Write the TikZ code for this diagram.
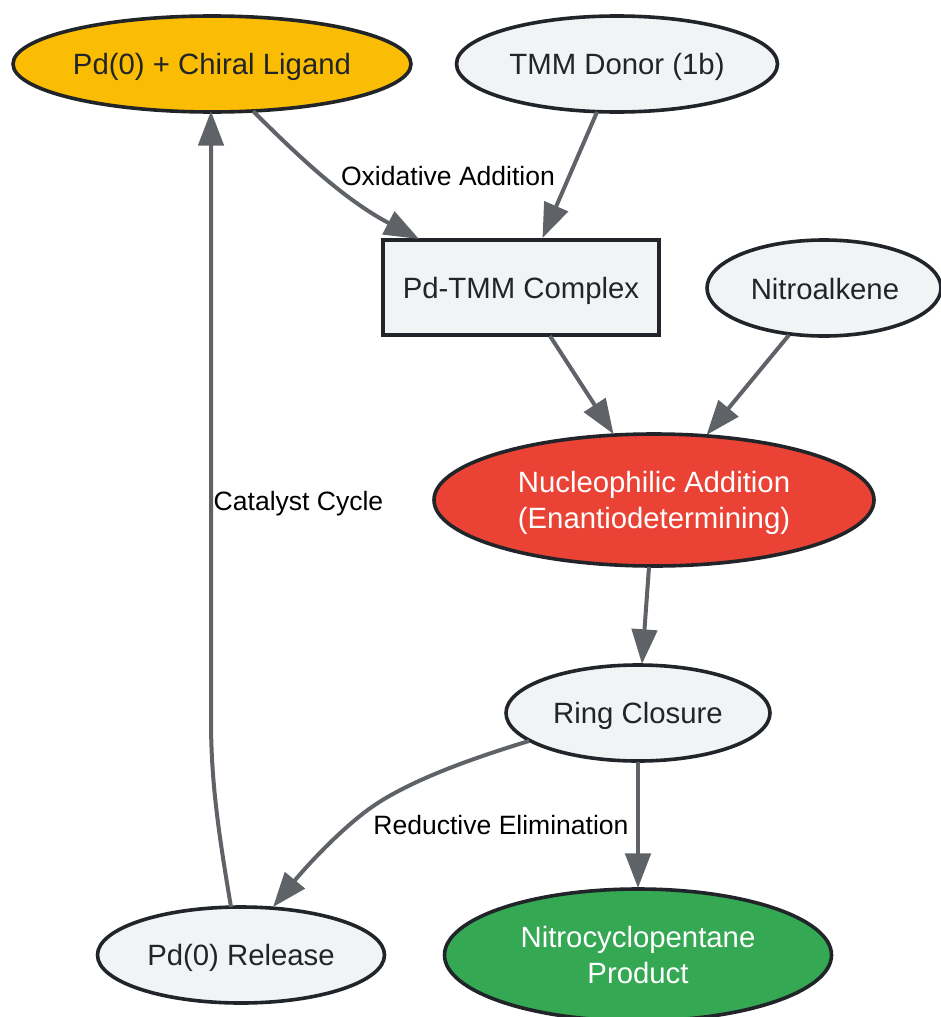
\documentclass[tikz,border=0pt]{standalone}
\usepackage{fontspec}
\setmainfont{Liberation Sans}
\usetikzlibrary{shapes.geometric,arrows.meta}
\definecolor{nodefill}{HTML}{F1F3F5}
\definecolor{ink}{HTML}{212529}
\definecolor{edgec}{HTML}{5F6368}
\definecolor{amber}{HTML}{FBBC04}
\definecolor{redn}{HTML}{EA4335}
\definecolor{greenn}{HTML}{34A853}
\newcommand{\px}{0.75pt}
\newcommand{\tdown}[2]{\raisebox{-#1pt}[\height][\depth]{#2}}
\tikzset{x=0.75pt,y=-0.75pt,
 base/.style={draw=ink,line width=2.7pt,fill=nodefill,text=ink,font=\fontsize{22}{27}\selectfont,align=center,inner sep=0pt,outer sep=0pt},
 oval/.style={base,ellipse},
 box/.style={base,rectangle,line width=3pt},
 conn/.style={draw=edgec,line width=3pt,-{Triangle[length=26pt,width=19pt]}},
 lab/.style={font=\fontsize{19.9}{24}\selectfont,text=black,inner sep=0pt}}
\begin{document}
\begin{tikzpicture}
\useasboundingbox (0,0) rectangle (940,1017);
\node[oval,fill=amber,minimum width=398*\px,minimum height=96*\px] (pd) at (212,64) {\tdown{2.2}{Pd(0) + Chiral Ligand}};
\node[oval,minimum width=321*\px,minimum height=96*\px] (tmm) at (617,64) {\tdown{2.2}{TMM Donor (1b)}};
\node[box,minimum width=276*\px,minimum height=95*\px] (cx) at (521,287.5) {\tdown{2.2}{Pd-TMM Complex}};
\node[oval,minimum width=234*\px,minimum height=96*\px] (nit) at (824,288) {\hspace{1.4pt}\tdown{0.8}{Nitroalkene}};
\node[oval,fill=redn,text=white,minimum width=440*\px,minimum height=132*\px] (nu) at (654,500) {\tdown{2.2}{Nucleophilic Addition}\\\tdown{2.2}{(Enantiodetermining)}};
\node[oval,minimum width=264*\px,minimum height=96*\px] (rc) at (638,713) {\tdown{2.2}{Ring Closure}};
\node[oval,minimum width=287*\px,minimum height=96*\px] (rel) at (241,955) {\tdown{2.2}{Pd(0) Release}};
\node[oval,fill=greenn,text=white,minimum width=387*\px,minimum height=132*\px] (prod) at (638,955) {Nitrocyclopentane\\Product};
\coordinate (a1) at (253,111);
\coordinate (a2) at (419,239);
\draw[conn] (a1) .. controls (300,158) and (345,200) .. (a2);
\coordinate (b1) at (597,112);
\coordinate (b2) at (542.5,238);
\draw[conn] (b1) -- (b2);
\coordinate (c1) at (550,336);
\coordinate (c2) at (613.5,434);
\draw[conn] (c1) -- (c2);
\coordinate (d1) at (789,335);
\coordinate (d2) at (706.5,435);
\draw[conn] (d1) -- (d2);
\coordinate (e1) at (649,567);
\coordinate (e2) at (642,664);
\draw[conn] (e1) -- (e2);
\coordinate (f1) at (638,762);
\coordinate (f2) at (638,888);
\draw[conn] (f1) -- (f2);
\coordinate (g1) at (529,741);
\coordinate (g2) at (273,907);
\draw[conn] (g1) .. controls (460,762) and (400,785) .. (365,812) .. controls (335,835) and (305,868) .. (g2);
\coordinate (h1) at (231,907);
\coordinate (h2) at (211,111);
\draw[conn] (h1) .. controls (218,830) and (211,780) .. (211,720) -- (h2);
\node[lab] (l1) at (448,176) {Oxidative Addition};
\node[lab] (l2) at (298.5,503.5) {Catalyst Cycle};
\node[lab] (l3) at (501,825) {Reductive Elimination};
\end{tikzpicture}
\end{document}
